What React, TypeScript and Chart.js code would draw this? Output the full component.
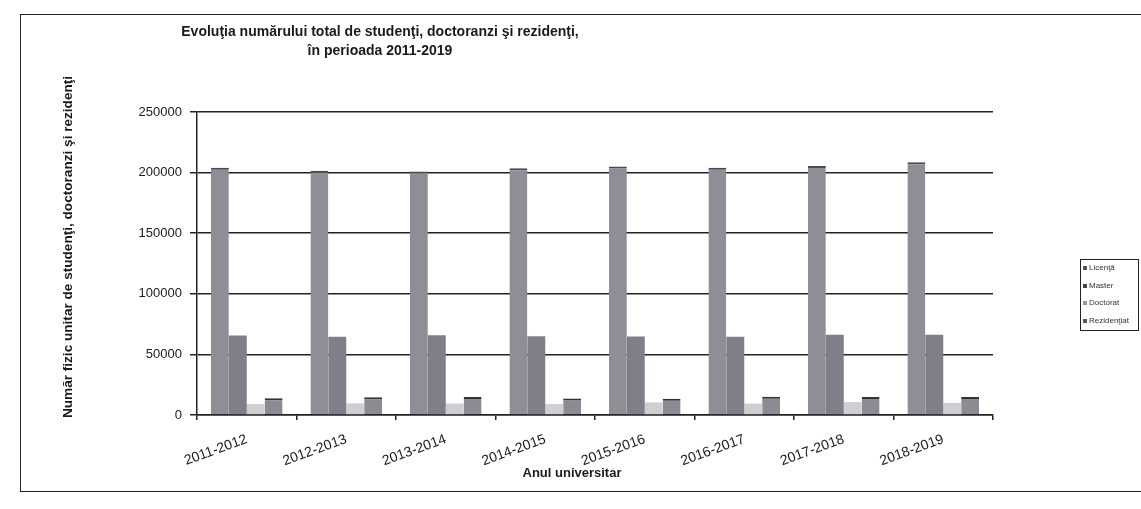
import React, { useEffect, useRef } from 'react';
import { Chart, registerables } from 'chart.js';

Chart.register(...registerables);

const categories = ['2011-2012', '2012-2013', '2013-2014', '2014-2015', '2015-2016', '2016-2017', '2017-2018', '2018-2019'];
const seriesNames = ['Licenţă', 'Master', 'Doctorat', 'Rezidenţiat'];
const licenta = [204000, 201500, 201000, 203500, 205000, 204000, 205500, 208500];
const master = [65500, 64600, 65700, 64900, 64800, 64600, 66200, 66200];
const doctorat = [9000, 9600, 9500, 9000, 10400, 9400, 10700, 9900];
const rezidentiat = [13800, 14600, 14900, 13700, 13500, 15100, 14900, 14900];
const yMax = 250000;
const yStep = 50000;
const titleLines = ['Evoluţia numărului total de studenţi, doctoranzi şi rezidenţi,', 'în perioada 2011-2019'];
const yTitle = 'Număr fizic unitar de studenţi, doctoranzi şi rezidenţi';
const xTitle = 'Anul universitar';

const FONT = '"Liberation Sans", Arial, sans-serif';
const INK = '#1a1a1a';

const textPlugin = {
  id: 'scanText',
  afterDraw(chart: any) {
    const ctx = chart.ctx;
    ctx.save();
    ctx.fillStyle = INK;
    ctx.textAlign = 'center';
    ctx.textBaseline = 'middle';
    ctx.font = `bold 14px ${FONT}`;
    ctx.fillText(titleLines[0], 380, 32);
    ctx.fillText(titleLines[1], 380, 51);
    ctx.font = `bold 13px ${FONT}`;
    ctx.fillText(xTitle, 572, 473);
    ctx.save();
    ctx.translate(68, 247);
    ctx.rotate(-Math.PI / 2);
    ctx.font = `bold 13.6px ${FONT}`;
    ctx.fillText(yTitle, 0, 0);
    ctx.restore();

    // legend
    ctx.strokeStyle = '#222';
    ctx.lineWidth = 1;
    ctx.strokeRect(1080.5, 259.5, 58, 71);
    ctx.font = `8px ${FONT}`;
    ctx.textAlign = 'left';
    const ys = [268, 286, 303, 321];
    chart.data.datasets.forEach((ds: any, i: number) => {
      ctx.fillStyle = ds.legendColor || ds.backgroundColor;
      ctx.fillRect(1083, ys[i] - 2, 4, 4);
      ctx.fillStyle = '#333';
      ctx.fillText(ds.label, 1089, ys[i]);
    });
    ctx.restore();
  },
};

export default function App() {
  const ref = useRef<HTMLCanvasElement>(null);
  useEffect(() => {
    if (!ref.current) return;
    const chart = new Chart(ref.current, {
      type: 'bar',
      data: {
        labels: categories,
        datasets: [
          { label: seriesNames[0], data: licenta, backgroundColor: '#8e8e97', borderColor: '#4a4a50', borderWidth: { top: 2, left: 0, right: 0, bottom: 0 }, legendColor: '#555' } as any,
          { label: seriesNames[1], data: master, backgroundColor: '#7f7f89', borderWidth: 0, legendColor: '#444' } as any,
          { label: seriesNames[2], data: doctorat, backgroundColor: '#cfcfd3', borderWidth: 0, legendColor: '#999' } as any,
          { label: seriesNames[3], data: rezidentiat, backgroundColor: '#8b8b94', borderColor: '#333', borderWidth: { top: 2, left: 0, right: 0, bottom: 0 }, legendColor: '#555' } as any,
        ],
      },
      options: {
        responsive: false,
        animation: false,
        devicePixelRatio: 1,
        layout: { padding: { top: 112, right: 148, bottom: 0, left: 0 } },
        datasets: { bar: { categoryPercentage: 0.72, barPercentage: 1, borderSkipped: 'start' } },
        plugins: { legend: { display: false }, title: { display: false }, tooltip: { enabled: false } },
        scales: {
          x: {
            afterFit: (s: any) => { s.height = 94; },
            grid: { display: true, drawOnChartArea: false, drawTicks: true, tickLength: 5, offset: true, color: '#222', lineWidth: 1.5 },
            border: { display: true, color: '#222', width: 1.5 },
            ticks: { color: INK, font: { family: FONT, size: 14 }, minRotation: 20, maxRotation: 20, padding: 11, labelOffset: 0, autoSkip: false },
          },
          y: {
            min: 0,
            max: yMax,
            afterFit: (s: any) => { s.width = 197; },
            grid: { color: '#222', lineWidth: 1.5, drawTicks: true, tickLength: 7 },
            border: { display: true, color: '#222', width: 1.5 },
            ticks: { stepSize: yStep, color: INK, font: { family: FONT, size: 13 }, padding: 8, callback: (v: any) => String(v) },
          },
        },
      },
      plugins: [textPlugin],
    });
    return () => chart.destroy();
  }, []);
  return (
    <div style={{ position: 'fixed', left: 0, top: 0, width: 1141, height: 509, background: '#fff', overflow: 'hidden' }}>
      <div style={{ position: 'absolute', left: 20, top: 14, width: 1200, height: 476, border: '1px solid #222' }} />
      <canvas ref={ref} width={1141} height={509} style={{ position: 'absolute', left: 0, top: 0 }} />
    </div>
  );
}
